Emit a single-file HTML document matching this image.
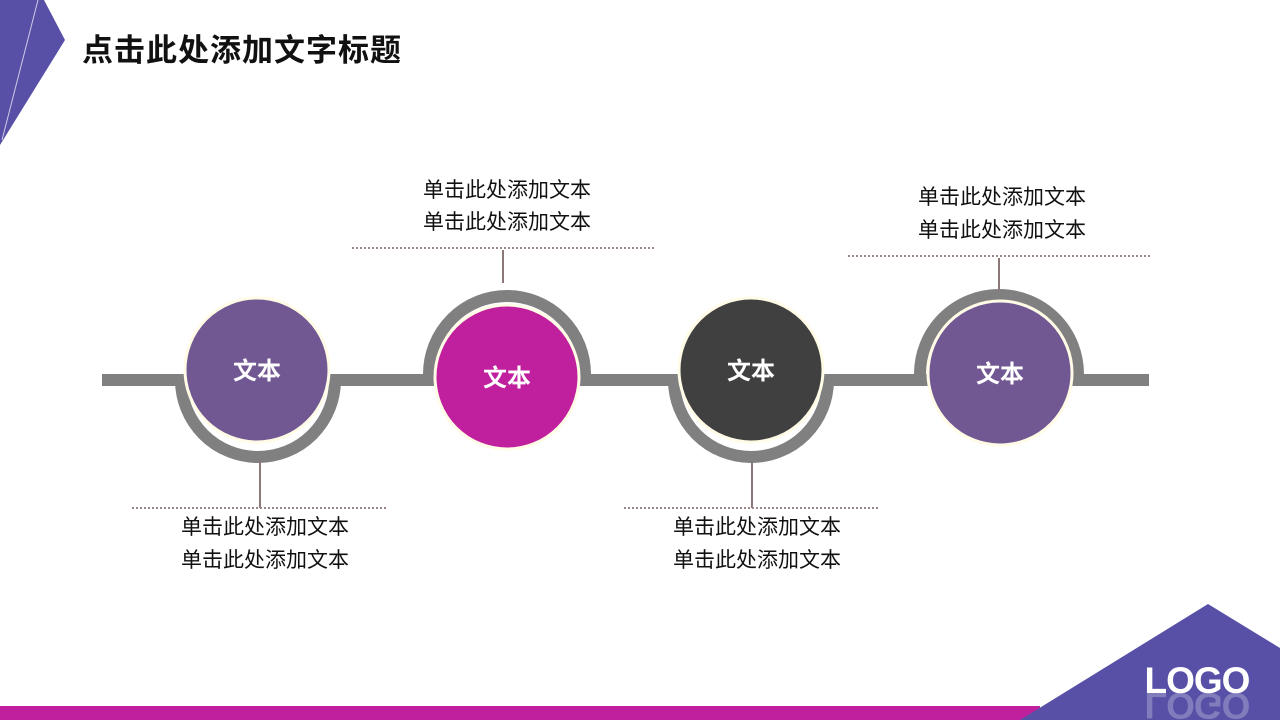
<!DOCTYPE html>
<html><head><meta charset="utf-8"><style>
html,body{margin:0;padding:0;background:#fff;width:1280px;height:720px;overflow:hidden}
svg text{font-family:"Liberation Sans","Noto Sans CJK SC",sans-serif}
</style></head><body>
<svg width="1280" height="720" viewBox="0 0 1280 720" xmlns="http://www.w3.org/2000/svg">
<polygon points="0,0 44,0 65,40 0,145" fill="#5750a6"/>
<line x1="38" y1="0" x2="2" y2="140" stroke="#cfcbe8" stroke-width="1"/>
<text x="82" y="61" font-size="31" font-weight="bold" fill="#111" letter-spacing="1">点击此处添加文字标题</text>

<rect x="102" y="374" width="1047" height="12" fill="#808080"/>

<g fill="none" stroke="#808080" stroke-width="12">
<path d="M181,380 A77,77 0 0 0 335,380"/>
<path d="M429,374 A78,78 0 0 1 585,374"/>
<path d="M674,380 A77,77 0 0 0 828,380"/>
<path d="M920,374 A79,79 0 0 1 1078,374"/>
</g>

<g stroke="#fffbe6" stroke-width="3">
<circle cx="257" cy="370" r="72" fill="#725893"/>
<circle cx="507" cy="377" r="72" fill="#c0209e"/>
<circle cx="751" cy="370" r="72" fill="#404040"/>
<circle cx="1000" cy="373" r="72" fill="#725893"/>
</g>
<g fill="#fff" font-size="24" font-weight="bold" text-anchor="middle">
<text x="257" y="379">文本</text>
<text x="507" y="386">文本</text>
<text x="751" y="379">文本</text>
<text x="1000" y="382">文本</text>
</g>

<g stroke="#8c7878" stroke-width="2">
<line x1="260" y1="462" x2="260" y2="508"/>
<line x1="503" y1="250" x2="503" y2="283"/>
<line x1="752" y1="462" x2="752" y2="508"/>
<line x1="999" y1="258" x2="999" y2="290"/>
</g>
<g stroke="#9a8888" stroke-width="2" stroke-dasharray="2,2">
<line x1="132" y1="508" x2="386" y2="508"/>
<line x1="352" y1="248" x2="654" y2="248"/>
<line x1="624" y1="508" x2="878" y2="508"/>
<line x1="848" y1="256" x2="1150" y2="256"/>
</g>
<g fill="#111" font-size="21" text-anchor="middle">
<text x="265" y="534">单击此处添加文本</text>
<text x="265" y="567">单击此处添加文本</text>
<text x="507" y="197">单击此处添加文本</text>
<text x="507" y="229">单击此处添加文本</text>
<text x="757" y="534">单击此处添加文本</text>
<text x="757" y="567">单击此处添加文本</text>
<text x="1002" y="204">单击此处添加文本</text>
<text x="1002" y="237">单击此处添加文本</text>
</g>

<rect x="0" y="706" width="1040" height="14" fill="#c0209e"/>
<polygon points="1020,720 1208,604 1280,648 1280,720" fill="#5750a6"/>
<text x="1197" y="693" font-size="37" font-weight="bold" fill="#fff" text-anchor="middle" letter-spacing="-1">LOGO</text>
<text x="1197" y="697" font-size="37" font-weight="bold" fill="#fff" fill-opacity="0.25" text-anchor="middle" letter-spacing="-1" transform="translate(0,1390) scale(1,-1)">LOGO</text>
</svg>
</body></html>
